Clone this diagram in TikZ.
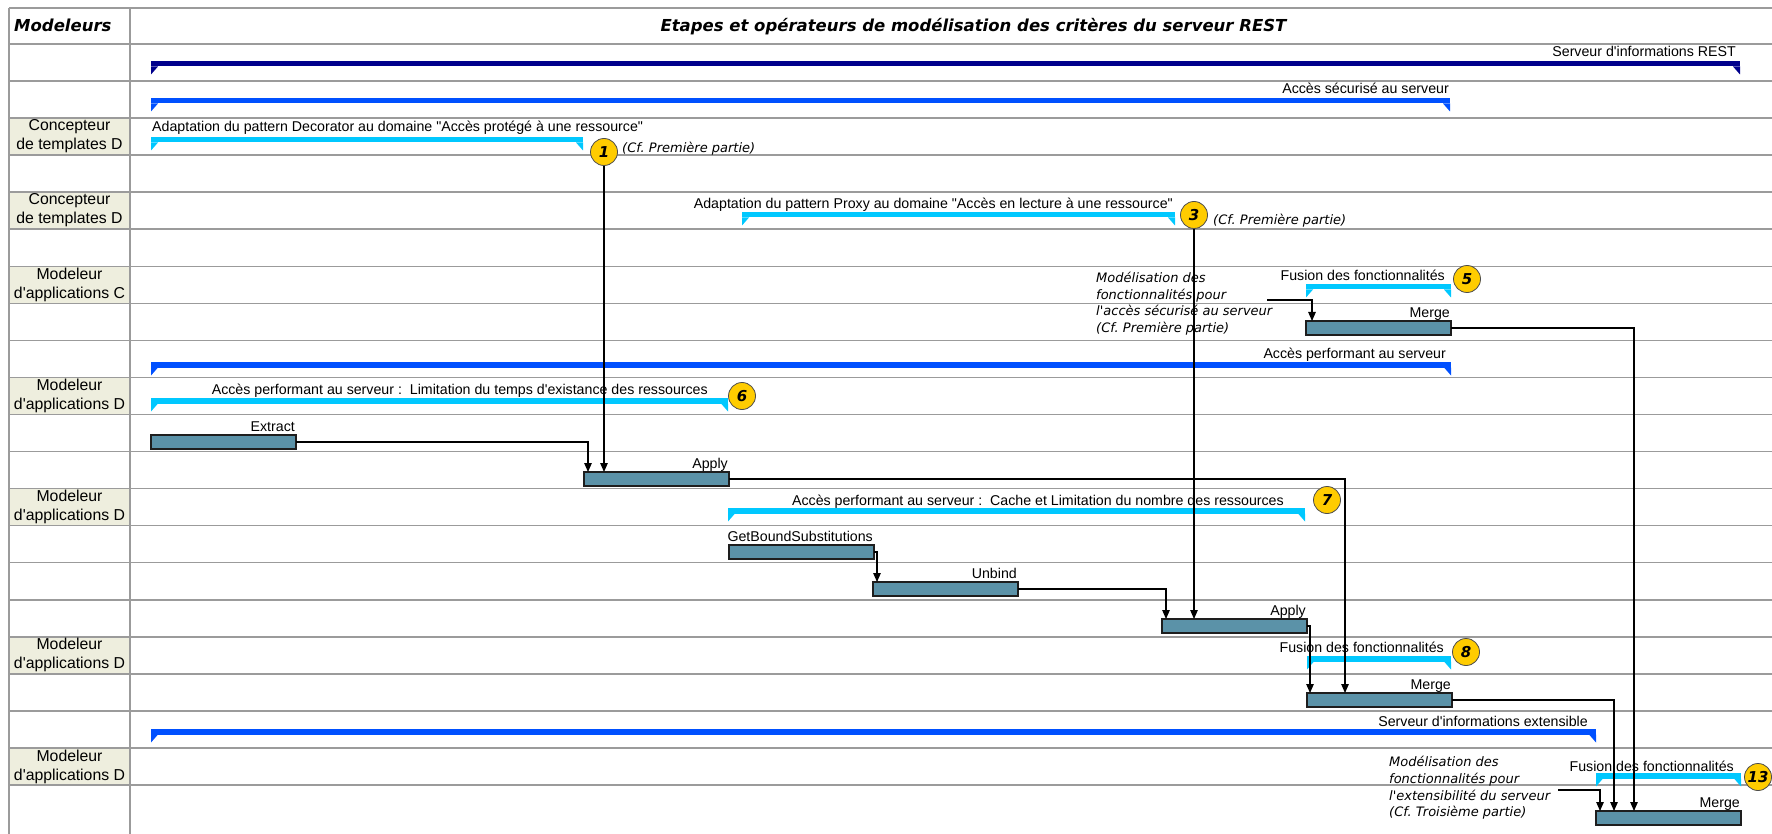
\documentclass[tikz,border=0pt]{standalone}
\usepackage{fontspec}
\newfontfamily\arialf{Liberation Sans}
\newfontfamily\dejavuf{DejaVu Sans}
\usetikzlibrary{arrows.meta,calc}
\frenchspacing
\definecolor{gridgray}{RGB}{155,155,155}
\definecolor{beige}{RGB}{238,238,222}
\definecolor{navybar}{RGB}{0,0,140}
\definecolor{bluebar}{RGB}{0,80,255}
\definecolor{cyanbar}{RGB}{0,200,255}
\definecolor{opfill}{RGB}{91,146,168}
\definecolor{opdraw}{RGB}{30,30,30}
\definecolor{gold}{RGB}{255,204,0}
\tikzset{
 tabline/.style={draw=gridgray, line width=1.5pt},
 sbar/.style={inner sep=0, outer sep=0, minimum height=5.5pt, draw=none},
 opb/.style={draw=opdraw, fill=opfill, line width=1.5pt, minimum width=145pt, minimum height=14pt, inner sep=0, outer sep=0},
 lbl/.style={font=\arialf\fontsize{14.2}{16}\selectfont, inner sep=0},
 notetxt/.style={font=\dejavuf\itshape\fontsize{13}{16.7}\selectfont, inner sep=0, align=left},
 roletxt/.style={font=\arialf\fontsize{15.8}{19}\selectfont, inner sep=0, align=center},
 numcirc/.style={circle, draw=black!70, fill=gold, line width=0.8pt, minimum size=27pt, inner sep=0, font=\dejavuf\bfseries\itshape\fontsize{15}{15}\selectfont},
 conn/.style={draw=black, line width=1.2pt, -{Triangle[length=9pt,width=7.5pt]}},
 headtxt/.style={font=\dejavuf\bfseries\itshape\fontsize{16.5}{19}\selectfont, inner sep=0},
}
\newcommand\sumbar[5]{%
 \node[sbar, fill=#5, minimum width={(#3-#2)*1pt}, anchor=north west] (#1) at (#2,#4) {};
 \fill[#5] (#1.south west) -- ++(0,8) -- ++(7,-8) -- cycle;
 \fill[#5] (#1.south east) -- ++(0,8) -- ++(-7,-8) -- cycle;
}
\newcommand\opbox[4]{%
 \node[opb, anchor=north west] (#1) at (#2,#3) {};
 \node[lbl, anchor=base east] (#1-l) at ($(#1.north east)+(-1,-4)$) {#4};
}
\begin{document}
\begin{tikzpicture}[x=1pt,y=-1pt]
\useasboundingbox (0,0) rectangle (1772,834);
% beige role cells
\foreach \r in {2,4,6,9,12,16,19} \fill[beige] (9,{44+37.05*\r}) rectangle (130,{44+37.05*(\r+1)});
% table lines
\draw[tabline] (9,8) -- (1772,8);
\foreach \k in {0,...,20} \draw[tabline] (9,{44+37.05*\k}) -- (1772,{44+37.05*\k});
\draw[tabline] (9,8) -- (9,834);
\draw[tabline] (130,8) -- (130,834);
% header
\node[headtxt, anchor=base west] (hmod) at (14,32) {Modeleurs};
\node[headtxt, anchor=base] (htitle) at (973.5,32) {Etapes et opérateurs de modélisation des critères du serveur REST};
% roles
\node[roletxt] (r3) at (69.5,136) {Concepteur\\de templates D};
\node[roletxt] (r5) at (69.5,210.5) {Concepteur\\de templates D};
\node[roletxt] (r7) at (69.5,285) {Modeleur\\d'applications C};
\node[roletxt] (r10) at (69.5,396) {Modeleur\\d'applications D};
\node[roletxt] (r13) at (69.5,507) {Modeleur\\d'applications D};
\node[roletxt] (r17) at (69.5,654.5) {Modeleur\\d'applications D};
\node[roletxt] (r20) at (69.5,766.5) {Modeleur\\d'applications D};
% summary bars
\sumbar{b1}{151}{1740}{61}{navybar}
\node[lbl, anchor=base east] (b1-l) at (1736,57) {Serveur d'informations REST};
\sumbar{b2}{151}{1450}{98}{bluebar}
\node[lbl, anchor=base east] (b2-l) at (1449,94) {Accès sécurisé au serveur};
\sumbar{b3}{151}{583}{137}{cyanbar}
\node[lbl, anchor=base west] (b3-l) at (152,132) {Adaptation du pattern Decorator au domaine "Accès protégé à une ressource"};
\sumbar{b5}{742}{1175}{212}{cyanbar}
\node[lbl, anchor=base east] (b5-l) at (1173,209) {Adaptation du pattern Proxy au domaine "Accès en lecture à une ressource"};
\sumbar{b7}{1306}{1451}{284}{cyanbar}
\node[lbl, anchor=base east] (b7-l) at (1445,280) {Fusion des fonctionnalités};
\sumbar{b9}{151}{1451}{362}{bluebar}
\node[lbl, anchor=base east] (b9-l) at (1446,358) {Accès performant au serveur};
\sumbar{b10}{151}{728}{398}{cyanbar}
\node[lbl, anchor=base east] (b10-l) at (708,394) {Accès performant au serveur :\ \ Limitation du temps d'existance des ressources};
\sumbar{b13}{728}{1305}{508}{cyanbar}
\node[lbl, anchor=base east] (b13-l) at (1284,505) {Accès performant au serveur :\ \ Cache et Limitation du nombre des ressources};
\sumbar{b17}{1307}{1451}{656}{cyanbar}
\node[lbl, anchor=base east] (b17-l) at (1444,652) {Fusion des fonctionnalités};
\sumbar{b19}{151}{1596}{729}{bluebar}
\node[lbl, anchor=base east] (b19-l) at (1588,726) {Serveur d'informations extensible};
\sumbar{b20}{1596}{1741}{773}{cyanbar}
\node[lbl, anchor=base east] (b20-l) at (1734,771) {Fusion des fonctionnalités};
% numbered circles and notes
\node[numcirc] (c1) at (604,152) {1};
\node[notetxt, anchor=base west] (n1) at (622,152.5) {(Cf. Première partie)};
\node[numcirc] (c3) at (1194,215) {3};
\node[notetxt, anchor=base west] (n3) at (1213,224.5) {(Cf. Première partie)};
\node[numcirc] (c5) at (1467,279) {5};
\node[numcirc] (c6) at (742,396) {6};
\node[numcirc] (c7) at (1327,500) {7};
\node[numcirc] (c8) at (1466,652) {8};
\node[numcirc] (c13) at (1758,777) {13};
\node[notetxt, anchor=north west] (m1) at (1096,272) {Modélisation des\\fonctionnalités pour\\l'accès sécurisé au serveur\\(Cf. Première partie)};
\node[notetxt, anchor=north west] (m2) at (1389,756) {Modélisation des\\fonctionnalités pour\\l'extensibilité du serveur\\(Cf. Troisième partie)};
\coordinate (m1out) at (1267,300);
\coordinate (m2out) at (1558,790);
% operator boxes
\opbox{merge1}{1306}{321}{Merge}
\opbox{extract}{151}{435}{Extract}
\opbox{apply1}{584}{472}{Apply}
\opbox{getb}{729}{545}{GetBoundSubstitutions}
\opbox{unbind}{873}{582}{Unbind}
\opbox{apply2}{1162}{619}{Apply}
\opbox{merge2}{1307}{693}{Merge}
\opbox{merge3}{1596}{811}{Merge}
% connectors
\draw[conn] (c1.south) -- (c1.south |- apply1.north);
\draw[conn] (c3.south) -- (c3.south |- apply2.north);
\draw[conn] (extract.east) -| ([xshift=4pt]apply1.north west);
\draw[conn] (apply1.east) -| ([xshift=38pt]merge2.north west);
\draw[conn] (getb.east) -| ([xshift=4pt]unbind.north west);
\draw[conn] (unbind.east) -| ([xshift=4pt]apply2.north west);
\draw[conn] (apply2.east) -| ([xshift=3pt]merge2.north west);
\draw[conn] (m1out) -| ([xshift=6pt]merge1.north west);
\draw[conn] (merge1.east) -| ([xshift=38pt]merge3.north west);
\draw[conn] (merge2.east) -| ([xshift=18pt]merge3.north west);
\draw[conn] (m2out) -| ([xshift=4pt]merge3.north west);
\end{tikzpicture}
\end{document}
